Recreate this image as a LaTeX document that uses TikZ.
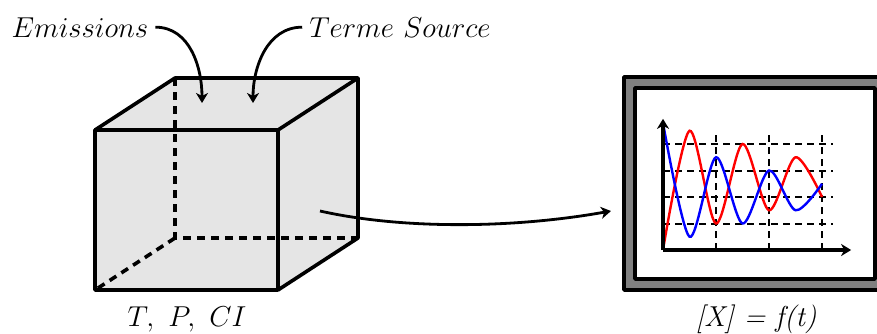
\documentclass[tikz,border=0pt]{standalone}
\usetikzlibrary{arrows.meta}
\begin{document}
\begin{tikzpicture}[x=0.5pt, y=0.5pt,
    txt/.style={font=\Large},
    edge/.style={line width=1.8pt, line join=round},
    hidden/.style={line width=1.8pt, dash pattern=on 4pt off 3pt},
    flow/.style={-{Stealth[length=5pt, width=6pt, inset=1.5pt]}, line width=1.4pt},
    gridline/.style={line width=1pt, dash pattern=on 3.5pt off 2.5pt}]

    \useasboundingbox (0,0) rectangle (877,333);
    \clip (0,0) rectangle (877,333);

    % Cube: front face (f) and back face (b)
    \coordinate (f1) at (95,43);
    \coordinate (f2) at (278,43);
    \coordinate (f3) at (278,203);
    \coordinate (f4) at (95,203);
    \coordinate (b1) at (175,95);
    \coordinate (b2) at (358,95);
    \coordinate (b3) at (358,255);
    \coordinate (b4) at (175,255);

    \fill[gray!20] (f1) -- (f2) -- (b2) -- (b3) -- (b4) -- (f4) -- cycle;
    \draw[hidden] (b4) -- (b1) -- (b2);
    \draw[hidden] (b1) -- (f1);
    \draw[edge] (f1) rectangle (f3);
    \draw[edge] (f4) -- (b4) -- (b3) -- (f3);
    \draw[edge] (b3) -- (b2) -- (f2);

    % Inputs
    \node[txt, anchor=base] (emis) at (80,296) {$Emissions$};
    \node[txt, anchor=base] (src) at (400,296) {$Terme\ Source$};
    \coordinate (emisIn) at (202,230);
    \coordinate (srcIn) at (253,230);
    \draw[flow] (emis.east) to[out=0, in=90] (emisIn);
    \draw[flow] (src.west) to[out=180, in=90] (srcIn);

    \node[txt, anchor=base] (cond) at (187,7) {$T,\ P,\ CI$};

    % Link cube -> screen
    \coordinate (cubeOut) at (320,122);
    \coordinate (scrIn) at (611,122);
    \draw[flow] (cubeOut) .. controls (400,104) and (510,104) .. (scrIn);

    % Screen
    \draw[edge, fill=gray] (624,43) rectangle (886,256);
    \draw[edge, fill=white] (635,54) rectangle (875,245);
    \node[txt, anchor=base] (conc) at (756,7) {\textit{[X] = f(t)}};

    % Plot on the screen
    \begin{scope}[shift={(663,83)}, x=26.5pt, y=13.25pt]
        \foreach \i in {1,2,3}
            \draw[gridline] (\i,0) -- (\i,4.5);
        \foreach \j in {1,2,3,4}
            \draw[gridline] (0,\j) -- (3.2,\j);
        \draw[red, line width=1.2pt] plot[smooth] coordinates
            {(0,0) (0.5,4.5) (1,1) (1.5,4) (2,1.5) (2.5,3.5) (3,2)};
        \draw[blue, line width=1.2pt] plot[smooth] coordinates
            {(0,4.8) (0.5,0.5) (1,3.5) (1.5,1) (2,3) (2.5,1.5) (3,2.5)};
        \draw[flow, line width=1.6pt] (0,0) -- (3.55,0);
        \draw[flow, line width=1.6pt] (0,0) -- (0,4.95);
    \end{scope}

\end{tikzpicture}
\end{document}
